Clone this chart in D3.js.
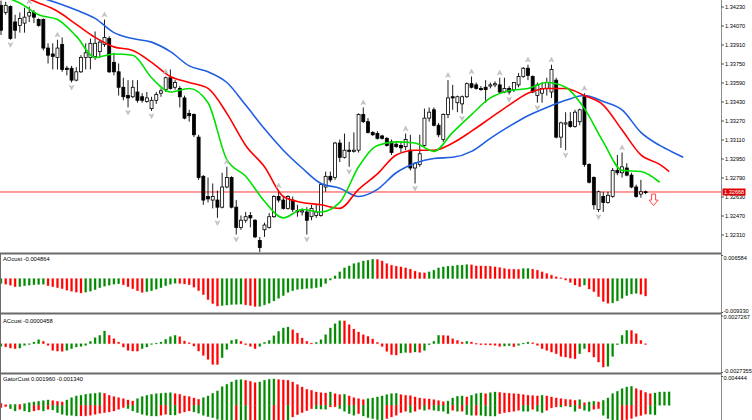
<!DOCTYPE html>
<html>
<head>
<meta charset="utf-8">
<script src="https://cdn.jsdelivr.net/npm/d3@7"></script>
<style>
body { margin: 0; background: #fff; }
svg { display: block; }
</style>
</head>
<body>
<script>
// candles, one entry per bar (oldest first)
const candleOpen = [1.3424,1.3418,1.3423,1.3410,1.3407,1.3409,1.3415,1.3418,1.3412,1.3412,
  1.3388,1.3383,1.3380,1.3391,1.3371,1.3371,1.3361,1.3368,1.3380,1.3380,
  1.3381,1.3385,1.3391,1.3396,1.3376,1.3368,1.3355,1.3348,1.3347,1.3351,
  1.3347,1.3343,1.3337,1.3344,1.3350,1.3353,1.3363,1.3355,1.3354,1.3346,
  1.3333,1.3332,1.3313,1.3280,1.3263,1.3260,1.3260,1.3254,1.3271,1.3279,
  1.3254,1.3237,1.3243,1.3247,1.3243,1.3226,1.3235,1.3237,1.3246,1.3263,
  1.3260,1.3253,1.3260,1.3251,1.3250,1.3250,1.3246,1.3247,1.3247,1.3271,
  1.3280,1.3279,1.3308,1.3296,1.3302,1.3301,1.3302,1.3332,1.3326,1.3317,
  1.3316,1.3314,1.3312,1.3309,1.3307,1.3306,1.3305,1.3302,1.3287,1.3290,
  1.3306,1.3329,1.3336,1.3323,1.3311,1.3332,1.3347,1.3342,1.3341,1.3347,
  1.3358,1.3357,1.3354,1.3355,1.3356,1.3357,1.3357,1.3351,1.3354,1.3353,
  1.3357,1.3364,1.3371,1.3364,1.3348,1.3350,1.3354,1.3351,1.3361,1.3313,
  1.3324,1.3326,1.3322,1.3326,1.3347,1.3290,1.3279,1.3252,1.3263,1.3258,
  1.3263,1.3285,1.3283,1.3287,1.3281,1.3271,1.3265,1.3267]
const candleHigh = [1.3428,1.3427,1.3424,1.3416,1.3418,1.3422,1.3423,1.3420,1.3413,1.3413,
  1.3392,1.3392,1.3395,1.3397,1.3373,1.3373,1.3372,1.3382,1.3392,1.3396,
  1.3402,1.3395,1.3412,1.3398,1.3384,1.3375,1.3363,1.3361,1.3361,1.3361,
  1.3350,1.3351,1.3347,1.3351,1.3354,1.3364,1.3370,1.3361,1.3356,1.3348,
  1.3336,1.3333,1.3315,1.3281,1.3279,1.3274,1.3268,1.3283,1.3288,1.3280,
  1.3260,1.3247,1.3250,1.3250,1.3244,1.3229,1.3241,1.3249,1.3264,1.3268,
  1.3263,1.3264,1.3263,1.3256,1.3253,1.3254,1.3256,1.3256,1.3274,1.3284,
  1.3284,1.3309,1.3311,1.3316,1.3309,1.3317,1.3333,1.3338,1.3329,1.3318,
  1.3318,1.3315,1.3313,1.3311,1.3309,1.3309,1.3316,1.3315,1.3292,1.3315,
  1.3337,1.3338,1.3338,1.3325,1.3333,1.3361,1.3357,1.3348,1.3348,1.3359,
  1.3364,1.3359,1.3356,1.3361,1.3359,1.3360,1.3363,1.3363,1.3356,1.3359,
  1.3367,1.3372,1.3374,1.3365,1.3359,1.3359,1.3363,1.3374,1.3363,1.3326,
  1.3334,1.3334,1.3336,1.3337,1.3350,1.3291,1.3280,1.3268,1.3267,1.3267,
  1.3287,1.3298,1.3300,1.3291,1.3283,1.3273,1.3277,1.3268]
const candleLow = [1.3399,1.3416,1.3395,1.3396,1.3401,1.3401,1.3410,1.3409,1.3406,1.3386,
  1.3375,1.3370,1.3370,1.3368,1.3365,1.3359,1.3360,1.3367,1.3370,1.3370,
  1.3378,1.3380,1.3389,1.3367,1.3365,1.3348,1.3344,1.3338,1.3346,1.3342,
  1.3342,1.3342,1.3335,1.3341,1.3347,1.3351,1.3353,1.3353,1.3338,1.3328,
  1.3326,1.3313,1.3277,1.3256,1.3258,1.3253,1.3245,1.3253,1.3270,1.3253,
  1.3231,1.3235,1.3241,1.3237,1.3228,1.3216,1.3229,1.3236,1.3245,1.3258,
  1.3252,1.3252,1.3250,1.3246,1.3247,1.3231,1.3243,1.3245,1.3246,1.3267,
  1.3275,1.3277,1.3292,1.3295,1.3288,1.3300,1.3300,1.3325,1.3316,1.3314,
  1.3311,1.3311,1.3305,1.3298,1.3304,1.3300,1.3302,1.3285,1.3274,1.3288,
  1.3305,1.3326,1.3322,1.3313,1.3309,1.3329,1.3336,1.3334,1.3333,1.3346,
  1.3354,1.3353,1.3352,1.3342,1.3354,1.3355,1.3350,1.3350,1.3349,1.3351,
  1.3355,1.3363,1.3361,1.3350,1.3342,1.3342,1.3348,1.3346,1.3312,1.3304,
  1.3302,1.3321,1.3321,1.3323,1.3288,1.3274,1.3252,1.3250,1.3250,1.3257,
  1.3262,1.3281,1.3279,1.3280,1.3270,1.3262,1.3262,1.3265]
const candleClose = [1.3403,1.3424,1.3396,1.3403,1.3413,1.3414,1.3418,1.3414,1.3407,1.3388,
  1.3382,1.3381,1.3388,1.3370,1.3370,1.3361,1.3368,1.3380,1.3384,1.3392,
  1.3392,1.3393,1.3397,1.3368,1.3368,1.3355,1.3347,1.3346,1.3355,1.3344,
  1.3344,1.3346,1.3344,1.3349,1.3352,1.3363,1.3354,1.3359,1.3347,1.3329,
  1.3331,1.3315,1.3279,1.3260,1.3261,1.3263,1.3254,1.3271,1.3279,1.3254,
  1.3237,1.3243,1.3246,1.3245,1.3229,1.3220,1.3239,1.3246,1.3263,1.3260,
  1.3253,1.3263,1.3252,1.3250,1.3251,1.3243,1.3253,1.3250,1.3273,1.3280,
  1.3277,1.3308,1.3296,1.3302,1.3301,1.3302,1.3332,1.3326,1.3317,1.3315,
  1.3312,1.3312,1.3306,1.3300,1.3305,1.3304,1.3311,1.3287,1.3291,1.3299,
  1.3329,1.3334,1.3323,1.3315,1.3332,1.3346,1.3346,1.3347,1.3347,1.3358,
  1.3355,1.3354,1.3353,1.3353,1.3357,1.3358,1.3351,1.3354,1.3351,1.3359,
  1.3364,1.3371,1.3365,1.3351,1.3357,1.3354,1.3359,1.3370,1.3313,1.3325,
  1.3325,1.3322,1.3334,1.3336,1.3290,1.3275,1.3256,1.3267,1.3258,1.3264,
  1.3285,1.3283,1.3288,1.3281,1.3271,1.3263,1.3267,1.32668]

// alligator lines, read every 4th bar (jaw / teeth / lips extend past the last candle)
const jawBar = [0,4,8,12,16,20,24,28,32,36,40,44,48,52,56,60,64,68,72,76,80,84,88,92,96,100,104,108,112,116,120,124,128,132,136,140,144,145]
const jawPrice = [1.3441,1.3437,1.3431,1.3426,1.3420,1.3413,1.3401,1.3396,1.3393,1.3385,1.3373,1.3368,1.3359,1.3340,1.3320,1.3302,1.3287,1.3274,1.3270,1.3263,
  1.3269,1.3283,1.3291,1.3295,1.3296,1.3301,1.3312,1.3322,1.3331,1.3338,1.3344,1.3348,1.3343,1.3336,1.3317,1.3306,1.3298,1.3296]
const teethBar = [0,4,8,12,16,20,24,28,32,36,40,44,48,52,56,60,64,68,72,76,80,84,88,92,96,100,104,108,112,116,120,124,128,132,136,140,142]
const teethPrice = [1.3437,1.3432,1.3426,1.3419,1.3408,1.3397,1.3389,1.3386,1.3376,1.3364,1.3359,1.3354,1.3333,1.3306,1.3288,1.3263,1.3258,1.3256,1.3253,1.3269,
  1.3282,1.3298,1.3302,1.3302,1.3308,1.3318,1.3329,1.3340,1.3350,1.3354,1.3354,1.3348,1.3340,1.3319,1.3298,1.3290,1.3284]
const lipsBar = [0,4,8,12,16,20,24,28,32,36,40,44,48,52,56,60,64,68,72,76,80,84,88,92,96,100,104,108,112,116,120,124,128,132,136,140]
const lipsPrice = [1.3432,1.3426,1.3416,1.3412,1.3398,1.3380,1.3383,1.3382,1.3363,1.3351,1.3354,1.3342,1.3294,1.3280,1.3259,1.3245,1.3252,1.3250,1.3258,1.3288,
  1.3306,1.3309,1.3308,1.3301,1.3317,1.3332,1.3346,1.3352,1.3354,1.3359,1.3355,1.3337,1.3309,1.3285,1.3284,1.3275]

const fractalUp = [6,12,22,35,48,59,77,86,95,100,106,112,117,124,132]
const fractalDown = [2,15,27,32,46,50,65,74,88,98,108,114,120,127]
const sellArrow = { bar: 138.7, price: 1.3260 }

const priceTicks = [1.34230,1.34070,1.33910,1.33750,1.33590,1.33430,1.33270,1.33110,1.32950,1.32790,1.32630,1.32470,1.32310]
const lastPrice = 1.32668

const aoValues = [-0.00136,-0.00158,-0.00186,-0.00227,-0.00221,-0.00199,-0.00185,-0.00172,-0.00163,-0.00158,
  -0.00199,-0.00227,-0.00255,-0.00282,-0.00324,-0.00352,-0.00379,-0.00401,-0.00379,-0.00352,
  -0.00310,-0.00255,-0.00213,-0.00185,-0.00158,-0.00144,-0.00172,-0.00227,-0.00282,-0.00338,
  -0.00385,-0.00365,-0.00338,-0.00296,-0.00255,-0.00199,-0.00158,-0.00130,-0.00136,-0.00149,
  -0.00172,-0.00241,-0.00338,-0.00448,-0.00587,-0.00698,-0.00767,-0.00753,-0.00739,-0.00725,
  -0.00720,-0.00714,-0.00734,-0.00753,-0.00781,-0.00775,-0.00734,-0.00689,-0.00623,-0.00551,
  -0.00476,-0.00385,-0.00338,-0.00302,-0.00291,-0.00274,-0.00271,-0.00255,-0.00227,-0.00136,
  -0.00042,0.00078,0.00188,0.00299,0.00354,0.00418,0.00446,0.00493,0.00512,0.00540,
  0.00534,0.00493,0.00418,0.00374,0.00346,0.00327,0.00299,0.00263,0.00208,0.00169,
  0.00161,0.00188,0.00235,0.00299,0.00327,0.00346,0.00354,0.00374,0.00376,0.00390,
  0.00385,0.00354,0.00352,0.00349,0.00346,0.00327,0.00307,0.00280,0.00263,0.00260,
  0.00257,0.00280,0.00282,0.00263,0.00235,0.00188,0.00141,0.00097,0.00050,0.00022,
  -0.00042,-0.00108,-0.00180,-0.00227,-0.00180,-0.00291,-0.00365,-0.00504,-0.00642,-0.00689,
  -0.00678,-0.00623,-0.00551,-0.00476,-0.00429,-0.00412,-0.00440,-0.004864]
const aoRange = [-0.009330, 0.006584]

const acValues = [-0.00025,-0.00030,-0.00042,-0.00048,-0.00042,-0.00016,-0.00006,0.00016,0.00039,0.00023,
  -0.00016,-0.000645,-0.00071,-0.00074,-0.000645,-0.00048,-0.00032,-0.00026,-0.00016,0.00023,
  0.00058,0.00081,0.00123,0.00081,0.00048,0.00016,-0.00032,-0.000645,-0.00071,-0.00072,
  -0.00048,-0.00032,-0.00006,0.00006,0.00016,0.00042,0.00068,0.00081,0.00068,0.00026,
  0.00010,-0.00023,-0.00071,-0.00113,-0.00152,-0.00200,-0.00201,-0.00135,-0.00055,0.00032,
  0.00042,0.00023,-0.00010,-0.00026,-0.00048,-0.00026,0.00013,0.00032,0.00077,0.00119,
  0.00152,0.00161,0.00135,0.00103,0.00055,0.00023,0.00006,0.00013,0.00039,0.00087,
  0.00152,0.00193,0.00222,0.00221,0.00184,0.00142,0.00113,0.00087,0.00071,0.00045,
  0.00013,-0.00026,-0.00074,-0.00106,-0.00110,-0.00090,-0.00084,-0.00087,-0.00080,-0.00084,
  -0.00065,-0.00010,0.00023,0.00081,0.00080,0.00077,0.00048,0.00032,0.00016,0.00023,
  0.00016,0.00003,-0.00010,-0.00011,-0.00013,-0.00016,-0.00026,-0.00023,-0.00019,-0.00029,
  -0.00016,0.00006,0.00016,0.00010,-0.00016,-0.00048,-0.000645,-0.00081,-0.00097,-0.00123,
  -0.00129,-0.00139,-0.00145,-0.00097,-0.00048,-0.00081,-0.00129,-0.00177,-0.00226,-0.00219,
  -0.00123,-0.00010,0.00081,0.00129,0.00128,0.00097,0.00032,-0.0000458]
const acRange = [-0.0027355, 0.0027267]

const gatorUpper = [0.00030,0.00010,0.00012,0.00015,0.00014,0.00025,0.00040,0.00051,0.00061,0.00071,
  0.00081,0.00071,0.00061,0.00051,0.00081,0.00116,0.00142,0.00152,0.00167,0.00177,
  0.00182,0.00192,0.00182,0.00152,0.00132,0.00116,0.00101,0.00081,0.00066,0.00101,
  0.00132,0.00152,0.00167,0.00177,0.00182,0.00187,0.00192,0.00177,0.00167,0.00142,
  0.00132,0.00111,0.00091,0.00116,0.00142,0.00182,0.00218,0.00283,0.00319,0.00354,
  0.00385,0.00390,0.00380,0.00364,0.00344,0.00354,0.00380,0.00395,0.00400,0.00390,
  0.00385,0.00380,0.00354,0.00314,0.00278,0.00243,0.00228,0.00202,0.00192,0.00187,
  0.00202,0.00177,0.00162,0.00167,0.00142,0.00116,0.00101,0.00086,0.00101,0.00111,
  0.00127,0.00142,0.00162,0.00177,0.00182,0.00162,0.00152,0.00147,0.00127,0.00111,
  0.00101,0.00096,0.00086,0.00071,0.00055,0.00065,0.00111,0.00137,0.00142,0.00127,
  0.00152,0.00177,0.00187,0.00177,0.00192,0.00202,0.00197,0.00187,0.00182,0.00177,
  0.00172,0.00162,0.00152,0.00147,0.00142,0.00152,0.00142,0.00127,0.00111,0.00101,
  0.00091,0.00086,0.00076,0.00086,0.00040,0.00051,0.00061,0.00051,0.00076,0.00111,
  0.00177,0.00213,0.00253,0.00278,0.00288,0.00253,0.00228,0.001960,0.00177,0.00187,
  0.00202,0.00203,0.00204]
const gatorLower = [-0.00035,-0.00020,-0.00051,-0.00086,-0.00061,-0.00086,-0.00101,-0.00086,-0.00071,-0.00086,
  -0.00061,-0.00071,-0.00111,-0.00137,-0.00152,-0.00153,-0.00162,-0.00161,-0.00160,-0.00152,
  -0.00137,-0.00121,-0.00111,-0.00101,-0.00086,-0.00061,-0.00035,-0.00051,-0.00086,-0.00111,
  -0.00137,-0.00152,-0.00162,-0.00163,-0.00152,-0.00137,-0.00147,-0.00148,-0.00121,-0.00101,
  -0.00086,-0.00101,-0.00121,-0.00152,-0.00172,-0.00187,-0.00213,-0.00235,-0.00260,-0.00285,
  -0.00275,-0.00290,-0.00300,-0.00285,-0.00270,-0.00280,-0.00295,-0.00305,-0.00290,-0.00275,
  -0.00260,-0.00270,-0.00177,-0.00142,-0.00111,-0.00081,-0.00052,-0.00055,-0.00058,-0.00060,
  -0.00025,-0.00024,-0.00051,-0.00091,-0.00127,-0.00152,-0.00127,-0.00162,-0.00187,-0.00202,
  -0.00218,-0.00225,-0.00202,-0.00177,-0.00152,-0.00111,-0.00091,-0.00111,-0.00091,-0.00061,
  -0.00076,-0.00061,-0.00076,-0.00085,-0.00091,-0.00127,-0.00076,-0.00091,-0.00091,-0.00142,
  -0.00152,-0.00152,-0.00153,-0.00162,-0.00163,-0.00164,-0.00127,-0.00111,-0.00101,-0.00091,
  -0.00076,-0.00091,-0.00092,-0.00061,-0.00091,-0.00111,-0.00076,-0.00040,-0.00025,-0.00026,
  -0.00010,-0.00025,-0.00091,-0.00051,-0.00076,-0.00091,-0.00061,-0.00051,-0.00152,-0.00202,
  -0.00230,-0.00245,-0.00230,-0.00220,-0.00200,-0.00170,-0.00155,-0.001340,-0.00137,-0.00145]
const gatorTop = 0.004444

let width = 752, height = 420, plotW = 721
let green = "#008a00", red = "#ff0000"
let font = "'Liberation Sans', Arial, sans-serif"
let axisFont = 5.6

let svg = d3.select("body").append("svg")
  .attr("width", width).attr("height", height)
  .style("font-family", font)

let x = d3.scaleLinear().domain([0, candleOpen.length - 1]).range([1, 645.6])
let y = d3.scaleLinear().domain([priceTicks[priceTicks.length - 1], priceTicks[0]]).range([234.5, 6.5])
let yAO = d3.scaleLinear().domain(aoRange).range([312, 255])
let yAC = d3.scaleLinear().domain(acRange).range([372, 315.5])
let yGator = d3.scaleLinear().domain([0, gatorTop]).range([405.3, 376])

let defs = svg.append("defs")
function clip(id, y0, h) {
  defs.append("clipPath").attr("id", id).append("rect")
    .attr("x", 0).attr("y", y0).attr("width", plotW).attr("height", h)
}
clip("cMain", 0, 252.5)
clip("cAO", 254.5, 58)
clip("cAC", 314.5, 58)
clip("cGator", 374.5, 46)

// ---- main window ----
let main = svg.append("g").attr("clip-path", "url(#cMain)")

main.append("line")
  .attr("x1", 0).attr("x2", plotW)
  .attr("y1", y(lastPrice)).attr("y2", y(lastPrice))
  .attr("stroke", "#ff2020").attr("stroke-width", 0.9)

let bars = candleOpen.map((d, i) => i)
let candle = main.selectAll("g.candle").data(bars).join("g").attr("class", "candle")
candle.append("line")
  .attr("x1", i => x(i)).attr("x2", i => x(i))
  .attr("y1", i => y(candleHigh[i])).attr("y2", i => y(candleLow[i]))
  .attr("stroke", "#000").attr("stroke-width", 0.9)
candle.append("rect")
  .attr("x", i => x(i) - 1.5)
  .attr("width", 3)
  .attr("y", i => y(Math.max(candleOpen[i], candleClose[i])))
  .attr("height", i => Math.max(0.9, Math.abs(y(candleOpen[i]) - y(candleClose[i]))))
  .attr("fill", i => candleClose[i] > candleOpen[i] ? "#fff" : "#000")
  .attr("stroke", "#000").attr("stroke-width", 0.8)

let line = d3.line().x(d => x(d[0])).y(d => y(d[1])).curve(d3.curveMonotoneX)
let gator = [
  { bars: jawBar, prices: jawPrice, color: "#1f5fe0" },
  { bars: teethBar, prices: teethPrice, color: "#ff0000" },
  { bars: lipsBar, prices: lipsPrice, color: "#00e000" }
]
main.selectAll("path.alligator").data(gator).join("path")
  .attr("class", "alligator")
  .attr("d", d => line(d3.zip(d.bars, d.prices)))
  .attr("fill", "none")
  .attr("stroke", d => d.color)
  .attr("stroke-width", 1.6)

// fractal arrowheads
let upShape = "M0,-2.5 L2.4,2.2 L0,1 L-2.4,2.2 Z"
let downShape = "M0,2.5 L2.4,-2.2 L0,-1 L-2.4,-2.2 Z"
main.selectAll("path.fup").data(fractalUp).join("path")
  .attr("class", "fup")
  .attr("d", upShape)
  .attr("transform", i => `translate(${x(i)},${y(candleHigh[i]) - 5})`)
  .attr("fill", "#c4c4c4").attr("stroke", "#b4b4b4").attr("stroke-width", 0.5)
main.selectAll("path.fdown").data(fractalDown).join("path")
  .attr("class", "fdown")
  .attr("d", downShape)
  .attr("transform", i => `translate(${x(i)},${y(candleLow[i]) + 5})`)
  .attr("fill", "#c4c4c4").attr("stroke", "#b4b4b4").attr("stroke-width", 0.5)

main.append("path")
  .attr("d", "M-2,-6 L2,-6 L2,0 L4.5,0 L0,5.5 L-4.5,0 L-2,0 Z")
  .attr("transform", `translate(${x(sellArrow.bar)},${y(sellArrow.price)})`)
  .attr("fill", "#fff").attr("stroke", "#ff3030").attr("stroke-width", 0.9)

// ---- sub windows ----
function histogram(clipId, values, scale, colorOf) {
  svg.append("g").attr("clip-path", `url(#${clipId})`)
    .selectAll("rect").data(values).join("rect")
    .attr("x", (d, i) => x(i) - 1)
    .attr("width", 2)
    .attr("y", d => Math.min(scale(d), scale(0)))
    .attr("height", d => Math.max(0.8, Math.abs(scale(d) - scale(0))))
    .attr("fill", colorOf)
    .attr("stroke", colorOf).attr("stroke-opacity", 0.3).attr("stroke-width", 0.8)
}
let risingColor = arr => (d, i) => (i == 0 || d > arr[i - 1]) ? green : red
let gatorColor = arr => (d, i) => (i > 0 && Math.abs(d) > Math.abs(arr[i - 1])) ? green : red

histogram("cAO", aoValues, yAO, risingColor(aoValues))
histogram("cAC", acValues, yAC, risingColor(acValues))
histogram("cGator", gatorUpper, yGator, gatorColor(gatorUpper))
histogram("cGator", gatorLower, yGator, gatorColor(gatorLower))

// window separators and frame
let seps = [253.5, 313.5, 373.5]
svg.selectAll("line.sep").data(seps).join("line")
  .attr("class", "sep")
  .attr("x1", 0).attr("x2", plotW)
  .attr("y1", d => d).attr("y2", d => d)
  .attr("stroke", "#6a6a6a").attr("stroke-width", 2)
svg.append("line")
  .attr("x1", 0.5).attr("x2", 0.5).attr("y1", 254).attr("y2", height)
  .attr("stroke", "#6a6a6a").attr("stroke-width", 1)
svg.append("line")
  .attr("x1", plotW + 0.5).attr("x2", plotW + 0.5).attr("y1", 0).attr("y2", height)
  .attr("stroke", "#8c8c8c").attr("stroke-width", 1)

// window captions
let last = aoValues.length - 1
let captions = [
  { text: "AOcust " + aoValues[last].toFixed(6), y: 261.3 },
  { text: "ACcust " + acValues[last].toFixed(7), y: 322.6 },
  { text: "GatorCust " + gatorUpper[last].toFixed(6) + " " + gatorLower[last].toFixed(6), y: 381.2 }
]
svg.selectAll("text.caption").data(captions).join("text")
  .attr("class", "caption")
  .attr("x", 3).attr("y", d => d.y)
  .attr("font-size", 5.8).attr("fill", "#000")
  .text(d => d.text)

// ---- price scales ----
function styleAxis(g) {
  g.attr("font-family", font).attr("font-size", axisFont)
  g.select(".domain").remove()
  g.selectAll(".tick line").attr("stroke", "#555")
  g.selectAll(".tick text").attr("fill", "#000")
}
svg.append("g")
  .attr("transform", `translate(${plotW},0)`)
  .call(d3.axisRight(y).tickValues(priceTicks).tickFormat(d => d.toFixed(5)).tickSize(3).tickPadding(1))
  .call(styleAxis)

svg.append("g")
  .attr("transform", `translate(${plotW},0)`)
  .call(d3.axisRight(yAO).tickValues(aoRange).tickFormat(d => d.toFixed(6)).tickSize(2).tickPadding(0.5))
  .call(styleAxis)
  .selectAll(".tick text").attr("dy", d => d > 0 ? "0.85em" : "0em")

svg.append("g")
  .attr("transform", `translate(${plotW},0)`)
  .call(d3.axisRight(yAC).tickValues(acRange).tickFormat(d => d.toFixed(7)).tickSize(2).tickPadding(0.5))
  .call(styleAxis)
  .selectAll(".tick text").attr("dy", d => d > 0 ? "0.55em" : "0em")

svg.append("g")
  .attr("transform", `translate(${plotW},0)`)
  .call(d3.axisRight(yGator).tickValues([gatorTop]).tickFormat(d => d.toFixed(6)).tickSize(2).tickPadding(0.5))
  .call(styleAxis)
  .selectAll(".tick text").attr("dy", "0.55em")

// current price label
let tag = svg.append("g").attr("transform", `translate(${plotW + 1.5},${y(lastPrice)})`)
tag.append("rect")
  .attr("x", 0).attr("y", -3.5).attr("width", 23).attr("height", 7)
  .attr("fill", "#e00000")
tag.append("text")
  .attr("x", 1.5).attr("y", 2.1)
  .attr("font-size", axisFont).attr("fill", "#fff")
  .text(lastPrice.toFixed(5))
</script>
</body>
</html>
